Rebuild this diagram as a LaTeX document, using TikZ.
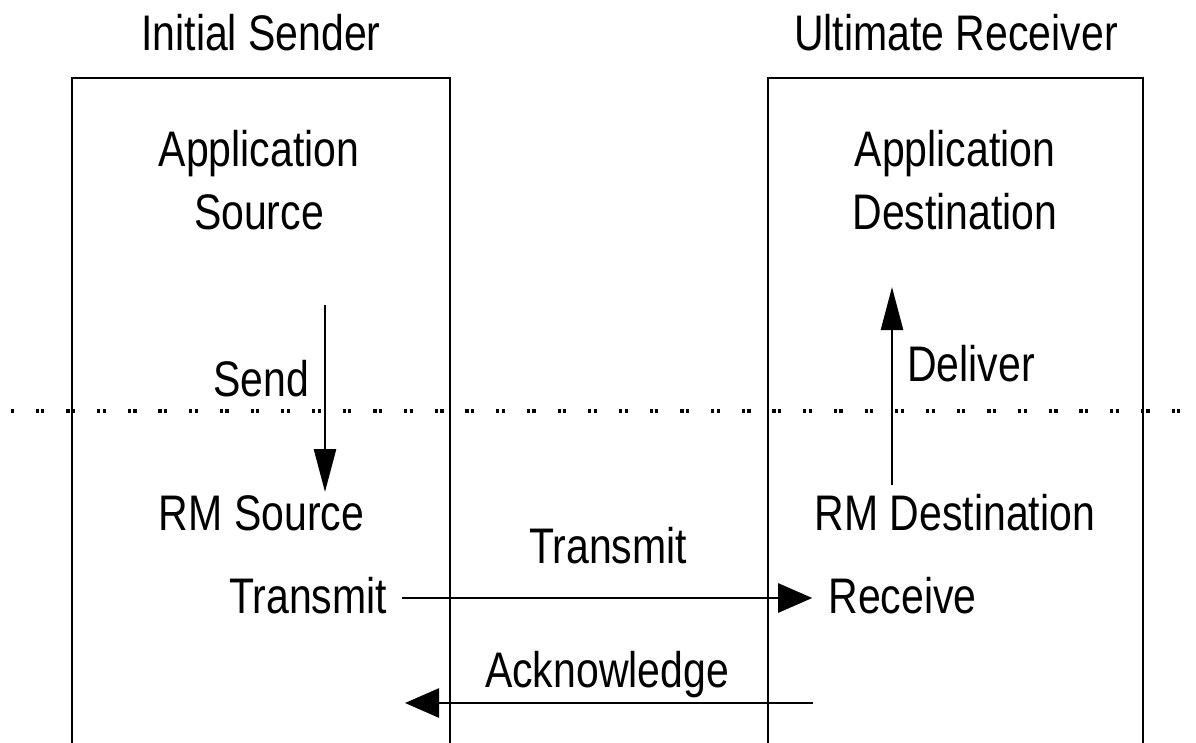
\documentclass[tikz,border=0pt]{standalone}
\usepackage{fontspec}
\setmainfont{Liberation Sans}
\newfontfamily\labfont[FakeStretch=0.82]{Liberation Sans}
\usetikzlibrary{arrows.meta}

\tikzset{
  lab/.style={font=\labfont\fontsize{50}{63}\selectfont, inner sep=0pt, anchor=base, align=center},
  frame/.style={line width=2.6pt, line join=miter},
  hflow/.style={line width=2.6pt, -{Triangle[length=34pt, width=29pt]}},
  vflow/.style={line width=2.6pt, -{Triangle[length=43pt, width=22pt]}},
  layer/.style={line width=3.2pt, dash pattern=on 3.2pt off 21.9pt on 3.2pt off 2.4pt}
}

\begin{document}
\begin{tikzpicture}[x=1pt, y=-1pt]
  \useasboundingbox (0,0) rectangle (1196,743);
  \fill[white] (0,0) rectangle (1196,743);
  \clip (0,0) rectangle (1196,743);

  % titles above the two parties
  \node[lab] (sender)   at (261,51) {Initial Sender};
  \node[lab] (receiver) at (956,51) {Ultimate Receiver};

  % party frames, open at the bottom
  \draw[frame] (72,750) -- (72,78) -- (450,78) -- (450,750);
  \draw[frame] (768,750) -- (768,78) -- (1143,78) -- (1143,750);

  % boundary between application and RM layers
  \draw[layer] (10.5,411) -- (1196,411);

  % application layer (base anchor sits on the last line)
  \node[lab] (appsrc) at (259,230) {Application\\Source};
  \node[lab] (appdst) at (955,230) {Application\\Destination};

  % RM layer
  \node[lab] (rmsrc) at (261.5,530) {RM Source};
  \node[lab] (rmdst) at (955,530) {RM Destination};
  \node[lab] (txl)   at (308,613) {Transmit};
  \node[lab] (rcv)   at (902.5,613) {Receive};

  % interface labels
  \node[lab] (send)    at (261,396) {Send};
  \node[lab] (deliver) at (971,381) {Deliver};
  \node[lab] (txm)     at (608,563) {Transmit};
  \node[lab] (ack)     at (607,687) {Acknowledge};

  % arrow end points
  \coordinate (sendtop) at (325,305);
  \coordinate (sendbot) at (325,492);
  \coordinate (delbot)  at (892,485);
  \coordinate (deltop)  at (892,287);
  \coordinate (ackr)    at (813,703);
  \coordinate (ackl)    at (405,703);

  \draw[vflow] (sendtop) -- (sendbot);
  \draw[vflow] (delbot) -- (deltop);
  \draw[hflow, shorten <=15pt, shorten >=16pt] (txl.east |- 0,598) -- (rcv.west |- 0,598);
  \draw[hflow] (ackr) -- (ackl);
\end{tikzpicture}
\end{document}
